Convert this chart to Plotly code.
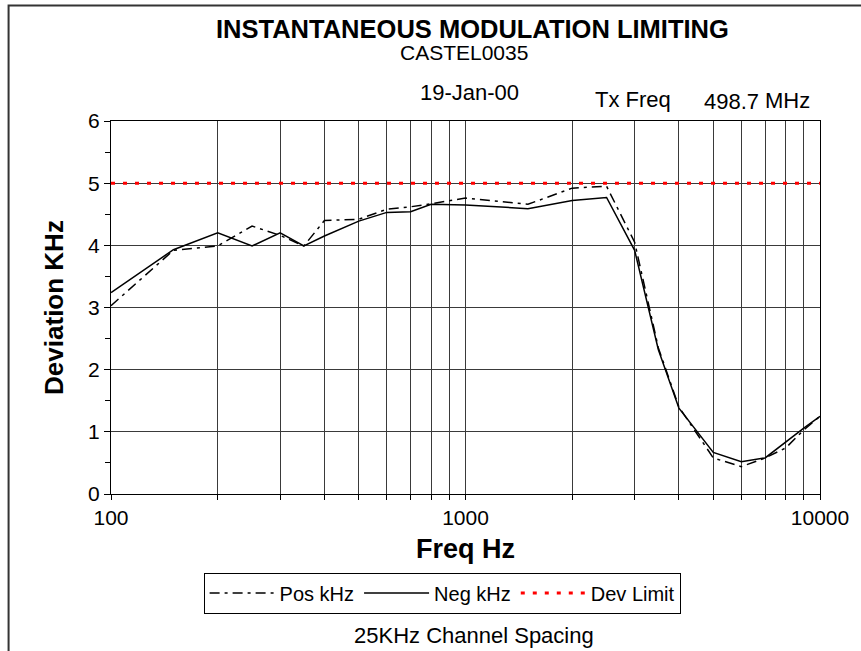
import plotly.graph_objects as go

freq_hz = [100, 150, 200, 250, 300, 350, 400, 500, 600, 700, 800, 1000,
           1500, 2000, 2500, 3000, 3500, 4000, 5000, 6000, 7000, 8000, 9000, 10000]
pos_khz = [3.03, 3.92, 3.99, 4.31, 4.16, 3.99, 4.40, 4.42, 4.58, 4.62, 4.67, 4.76,
           4.66, 4.92, 4.95, 4.05, 2.35, 1.40, 0.58, 0.44, 0.58, 0.74, 1.03, 1.25]
neg_khz = [3.24, 3.93, 4.20, 3.99, 4.20, 3.99, 4.15, 4.39, 4.53, 4.54, 4.66, 4.65,
           4.59, 4.72, 4.77, 3.92, 2.32, 1.38, 0.67, 0.52, 0.58, 0.84, 1.06, 1.25]
dev_limit = [5.0] * len(freq_hz)

x_tickvals = [m * 10 ** e for e in (2, 3) for m in range(1, 10)] + [10000]
x_ticktext = [str(v) if v in (100, 1000, 10000) else "" for v in x_tickvals]
y_tickvals = [0, 1, 2, 3, 4, 5, 6]

FONT = "Arial, Liberation Sans, sans-serif"

fig = go.Figure()
fig.add_trace(go.Scatter(x=freq_hz, y=pos_khz, mode="lines", name="Pos kHz",
                         line=dict(color="black", width=1.5, dash="10px,5px,3px,5px")))
fig.add_trace(go.Scatter(x=freq_hz, y=neg_khz, mode="lines", name="Neg kHz",
                         line=dict(color="black", width=1.5)))
fig.add_trace(go.Scatter(x=freq_hz, y=dev_limit, mode="lines", name="Dev Limit",
                         line=dict(color="#FF0000", width=3, dash="4px,8px")))

fig.update_layout(
    width=861, height=651,
    margin=dict(l=111, r=37, t=121, b=157),
    paper_bgcolor="white", plot_bgcolor="white",
    font=dict(family=FONT, size=20, color="black"),
    showlegend=True,
    legend=dict(orientation="h", x=0.467, xanchor="center", y=-0.2107, yanchor="top",
                bordercolor="black", borderwidth=1, bgcolor="white",
                font=dict(size=20), itemwidth=65, tracegroupgap=0),
    xaxis=dict(type="log", range=[2, 4], tickvals=x_tickvals, ticktext=x_ticktext,
               showgrid=True, gridcolor="#3a3a3a", gridwidth=1,
               ticks="outside", ticklen=5, tickcolor="black",
               showline=True, linecolor="black", linewidth=1, mirror=True,
               zeroline=False, tickfont=dict(size=21),
               title=dict(text="<b>Freq Hz</b>", font=dict(size=27), standoff=10)),
    yaxis=dict(range=[0, 6], tickvals=y_tickvals,
               showgrid=True, gridcolor="#3a3a3a", gridwidth=1,
               ticks="outside", ticklen=6, tickcolor="black",
               minor=dict(dtick=0.5, ticks="outside", ticklen=5, tickcolor="black", showgrid=False),
               showline=True, linecolor="black", linewidth=1, mirror=True,
               zeroline=False, tickfont=dict(size=21),
               title=dict(text="<b>Deviation KHz</b>", font=dict(size=26), standoff=17)),
)

annots = [
    dict(text="<b>INSTANTANEOUS MODULATION LIMITING</b>", x=0.51, y=1.2455, size=25.5),
    dict(text="CASTEL0035", x=0.498, y=1.184, size=21),
    dict(text="19-Jan-00", x=0.506, y=1.0755, size=22),
    dict(text="Tx Freq", x=0.736, y=1.058, size=22),
    dict(text="498.7", x=0.875, y=1.0525, size=22),
    dict(text="MHz", x=0.954, y=1.055, size=22),
    dict(text="25KHz Channel Spacing", x=0.512, y=-0.379, size=22),
]
for a in annots:
    fig.add_annotation(text=a["text"], x=a["x"], y=a["y"], xref="paper", yref="paper",
                       xanchor="center", yanchor="middle", showarrow=False,
                       font=dict(size=a["size"], family=FONT, color="black"))

# outer chart frame
fig.add_shape(type="rect", xref="paper", yref="paper",
              x0=(8 - 111) / 713, x1=(870 - 111) / 713,
              y0=(494.3 - 660) / 373.6, y1=(494.3 - 5) / 373.6,
              line=dict(color="#333333", width=2), fillcolor="rgba(0,0,0,0)", layer="below")

fig.write_html("out.html", config={"displayModeBar": False},
               post_script="document.body.style.margin='0';document.body.style.overflow='hidden';")
